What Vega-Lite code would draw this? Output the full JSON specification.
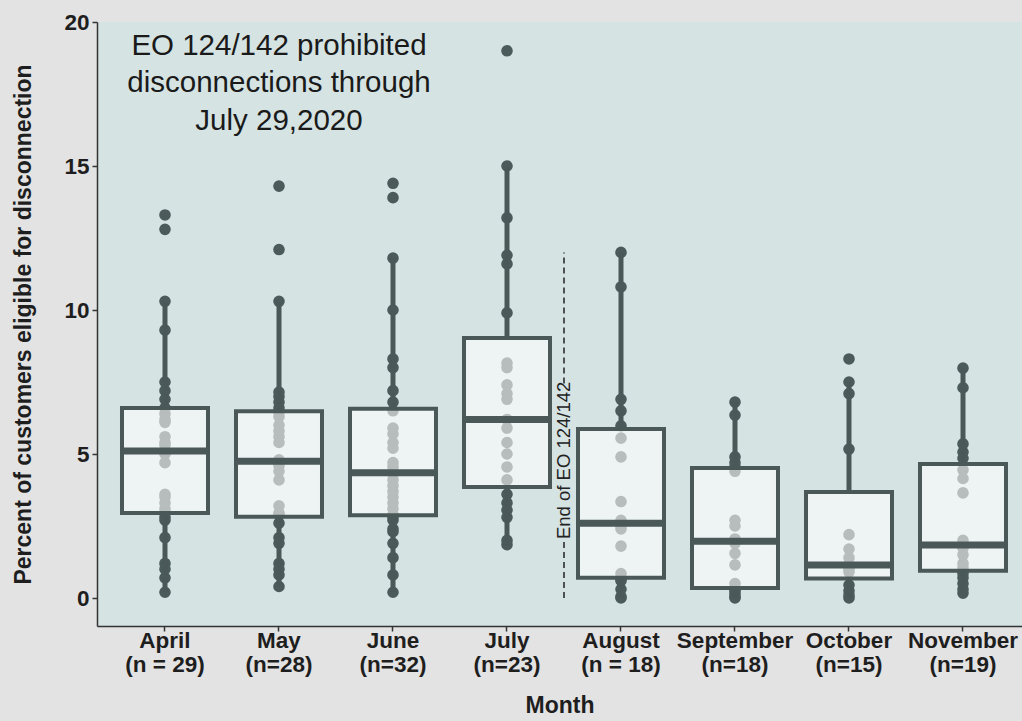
{
  "$schema": "https://vega.github.io/schema/vega-lite/v6.json",
  "width": 925,
  "height": 604,
  "autosize": {"type": "none"},
  "padding": {"left": 97, "top": 22, "right": 0, "bottom": 95},
  "background": "#e3e3e3",
  "config": {"view": {"fill": "#d5e3e3", "stroke": null}, "font": "Liberation Sans"},
  "datasets": {
    "pts": [
      {"month":"April","value":0.2},{"month":"April","value":0.7},{"month":"April","value":1.0},{"month":"April","value":1.2},{"month":"April","value":2.1},{"month":"April","value":2.7},{"month":"April","value":2.8},{"month":"April","value":2.95},{"month":"April","value":3.1},{"month":"April","value":3.3},{"month":"April","value":3.5},{"month":"April","value":3.6},{"month":"April","value":4.7},{"month":"April","value":5.0},{"month":"April","value":5.1},{"month":"April","value":5.3},{"month":"April","value":5.4},{"month":"April","value":5.6},{"month":"April","value":6.1},{"month":"April","value":6.2},{"month":"April","value":6.4},{"month":"April","value":6.6},{"month":"April","value":6.9},{"month":"April","value":7.2},{"month":"April","value":7.5},{"month":"April","value":9.3},{"month":"April","value":10.3},{"month":"April","value":12.8},{"month":"April","value":13.3},
      {"month":"May","value":0.4},{"month":"May","value":0.8},{"month":"May","value":1.0},{"month":"May","value":1.2},{"month":"May","value":1.9},{"month":"May","value":2.1},{"month":"May","value":2.6},{"month":"May","value":2.9},{"month":"May","value":2.95},{"month":"May","value":3.2},{"month":"May","value":4.1},{"month":"May","value":4.4},{"month":"May","value":4.6},{"month":"May","value":4.7},{"month":"May","value":4.8},{"month":"May","value":5.4},{"month":"May","value":5.6},{"month":"May","value":5.8},{"month":"May","value":6.0},{"month":"May","value":6.3},{"month":"May","value":6.45},{"month":"May","value":6.6},{"month":"May","value":6.8},{"month":"May","value":7.0},{"month":"May","value":7.15},{"month":"May","value":10.3},{"month":"May","value":12.1},{"month":"May","value":14.3},
      {"month":"June","value":0.2},{"month":"June","value":0.8},{"month":"June","value":1.4},{"month":"June","value":1.9},{"month":"June","value":2.3},{"month":"June","value":2.4},{"month":"June","value":2.7},{"month":"June","value":2.8},{"month":"June","value":2.9},{"month":"June","value":3.1},{"month":"June","value":3.3},{"month":"June","value":3.5},{"month":"June","value":3.7},{"month":"June","value":3.9},{"month":"June","value":4.1},{"month":"June","value":4.3},{"month":"June","value":4.4},{"month":"June","value":4.55},{"month":"June","value":4.7},{"month":"June","value":5.2},{"month":"June","value":5.4},{"month":"June","value":5.7},{"month":"June","value":5.9},{"month":"June","value":6.5},{"month":"June","value":6.8},{"month":"June","value":7.2},{"month":"June","value":8.0},{"month":"June","value":8.3},{"month":"June","value":10.0},{"month":"June","value":11.8},{"month":"June","value":13.9},{"month":"June","value":14.4},
      {"month":"July","value":1.85},{"month":"July","value":2.0},{"month":"July","value":2.8},{"month":"July","value":3.05},{"month":"July","value":3.3},{"month":"July","value":3.6},{"month":"July","value":4.1},{"month":"July","value":4.55},{"month":"July","value":5.0},{"month":"July","value":5.4},{"month":"July","value":5.9},{"month":"July","value":6.2},{"month":"July","value":6.9},{"month":"July","value":7.1},{"month":"July","value":7.4},{"month":"July","value":8.0},{"month":"July","value":8.16},{"month":"July","value":9.9},{"month":"July","value":11.6},{"month":"July","value":11.9},{"month":"July","value":13.2},{"month":"July","value":15.0},{"month":"July","value":19.0},
      {"month":"August","value":0.0},{"month":"August","value":0.05},{"month":"August","value":0.3},{"month":"August","value":0.6},{"month":"August","value":0.65},{"month":"August","value":0.85},{"month":"August","value":1.8},{"month":"August","value":2.4},{"month":"August","value":2.5},{"month":"August","value":2.7},{"month":"August","value":3.35},{"month":"August","value":4.9},{"month":"August","value":5.55},{"month":"August","value":5.98},{"month":"August","value":6.5},{"month":"August","value":6.9},{"month":"August","value":10.8},{"month":"August","value":12.0},
      {"month":"September","value":0.0},{"month":"September","value":0.05},{"month":"September","value":0.15},{"month":"September","value":0.25},{"month":"September","value":0.3},{"month":"September","value":0.5},{"month":"September","value":1.15},{"month":"September","value":1.55},{"month":"September","value":1.9},{"month":"September","value":2.05},{"month":"September","value":2.5},{"month":"September","value":2.7},{"month":"September","value":4.4},{"month":"September","value":4.55},{"month":"September","value":4.7},{"month":"September","value":4.9},{"month":"September","value":6.35},{"month":"September","value":6.8},
      {"month":"October","value":0.0},{"month":"October","value":0.1},{"month":"October","value":0.25},{"month":"October","value":0.45},{"month":"October","value":0.9},{"month":"October","value":1.0},{"month":"October","value":1.1},{"month":"October","value":1.15},{"month":"October","value":1.4},{"month":"October","value":1.7},{"month":"October","value":2.2},{"month":"October","value":5.17},{"month":"October","value":7.1},{"month":"October","value":7.5},{"month":"October","value":8.3},
      {"month":"November","value":0.17},{"month":"November","value":0.3},{"month":"November","value":0.5},{"month":"November","value":0.7},{"month":"November","value":0.85},{"month":"November","value":1.05},{"month":"November","value":1.2},{"month":"November","value":1.5},{"month":"November","value":1.73},{"month":"November","value":1.84},{"month":"November","value":2.0},{"month":"November","value":3.65},{"month":"November","value":4.15},{"month":"November","value":4.45},{"month":"November","value":4.85},{"month":"November","value":5.07},{"month":"November","value":5.35},{"month":"November","value":7.3},{"month":"November","value":7.98}
    ],
    "segs": [
      {"month":"August","lo":0,"hi":2.05},
      {"month":"August","lo":7.45,"hi":12.0}
    ],
    "endnote": [
      {"month":"August","value":4.78,"label":"End of EO 124/142"}
    ],
    "note": [
      {"month":"May","value":19.18,"label":"EO 124/142 prohibited\ndisconnections through\nJuly 29,2020"}
    ]
  },
  "layer": [
    {
      "data": {"name": "pts"},
      "mark": {"type": "circle", "size": 135, "color": "#4b5a5b", "opacity": 1},
      "encoding": {
        "x": {
          "field": "month", "type": "nominal",
          "sort": ["April","May","June","July","August","September","October","November"],
          "scale": {"type": "band", "paddingInner": 0, "paddingOuter": 0.057, "align": 0.846},
          "title": "Month",
          "axis": {
            "domainColor": "#333333", "domainWidth": 1.5,
            "tickColor": "#333333", "tickSize": 5, "tickWidth": 1.5,
            "labelFont": "Liberation Sans", "labelFontWeight": "bold", "labelFontSize": 22.5,
            "labelColor": "#1e1e1e", "labelAngle": 0, "labelLineHeight": 24, "labelPadding": -2,
            "labelBaseline": "top",
            "labelExpr": "[datum.label, datum.label == 'April' ? '(n = 29)' : datum.label == 'May' ? '(n=28)' : datum.label == 'June' ? '(n=32)' : datum.label == 'July' ? '(n=23)' : datum.label == 'August' ? '(n = 18)' : datum.label == 'September' ? '(n=18)' : datum.label == 'October' ? '(n=15)' : '(n=19)']",
            "titleFont": "Liberation Sans", "titleFontWeight": "bold", "titleFontSize": 23,
            "titleColor": "#1e1e1e", "titlePadding": 19, "grid": false
          }
        },
        "y": {
          "field": "value", "type": "quantitative",
          "scale": {"domain": [-0.972, 20], "nice": false, "zero": false},
          "title": "Percent of customers eligible for disconnection",
          "axis": {
            "values": [0, 5, 10, 15, 20],
            "domainColor": "#333333", "domainWidth": 1.5,
            "tickColor": "#333333", "tickSize": 5, "tickWidth": 1.5,
            "labelFont": "Liberation Sans", "labelFontWeight": "bold", "labelFontSize": 22.5,
            "labelColor": "#1e1e1e", "labelPadding": 3,
            "titleFont": "Liberation Sans", "titleFontWeight": "bold", "titleFontSize": 23,
            "titleColor": "#1e1e1e", "titlePadding": 28, "grid": false
          }
        }
      }
    },
    {
      "data": {"name": "pts"},
      "mark": {
        "type": "boxplot", "extent": 1.5, "size": 86, "outliers": false,
        "box": {"fill": "#ffffff", "fillOpacity": 0.6, "stroke": "#4a5858", "strokeWidth": 4},
        "median": {"color": "#4a5858", "thickness": 7, "opacity": 1},
        "rule": {"color": "#4a5858", "strokeWidth": 5, "opacity": 1}
      },
      "encoding": {
        "x": {"field": "month", "type": "nominal", "sort": ["April","May","June","July","August","September","October","November"]},
        "y": {"field": "value", "type": "quantitative", "title": "Percent of customers eligible for disconnection"}
      }
    },
    {
      "data": {"name": "segs"},
      "mark": {"type": "rule", "color": "#222222", "strokeWidth": 1.5, "strokeDash": [6, 4]},
      "encoding": {
        "x": {"field": "month", "type": "nominal", "bandPosition": 0, "sort": ["April","May","June","July","August","September","October","November"]},
        "y": {"field": "lo", "type": "quantitative", "title": "Percent of customers eligible for disconnection"},
        "y2": {"field": "hi"}
      }
    },
    {
      "data": {"name": "endnote"},
      "mark": {"type": "text", "angle": 270, "fontSize": 18.5, "color": "#222222", "align": "center", "baseline": "middle", "font": "Liberation Sans"},
      "encoding": {
        "x": {"field": "month", "type": "nominal", "bandPosition": 0, "sort": ["April","May","June","July","August","September","October","November"]},
        "y": {"field": "value", "type": "quantitative", "title": "Percent of customers eligible for disconnection"},
        "text": {"field": "label"}
      }
    },
    {
      "data": {"name": "note"},
      "mark": {"type": "text", "fontSize": 29.5, "lineHeight": 37.5, "lineBreak": "\n", "color": "#1a1a1a", "align": "center", "baseline": "middle", "font": "Liberation Sans"},
      "encoding": {
        "x": {"field": "month", "type": "nominal", "sort": ["April","May","June","July","August","September","October","November"]},
        "y": {"field": "value", "type": "quantitative", "title": "Percent of customers eligible for disconnection"},
        "text": {"field": "label"}
      }
    }
  ]
}
